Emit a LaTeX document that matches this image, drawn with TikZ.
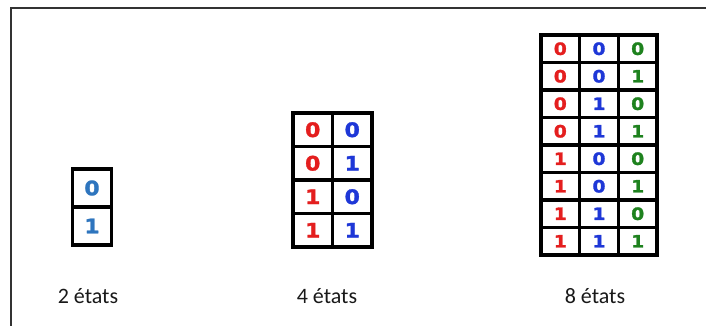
\documentclass[tikz,border=0pt]{standalone}
\usepackage{fontspec}
\setmainfont{Carlito}
\newfontfamily\digitfont[BoldFeatures={FakeBold=1.5,FakeStretch=1.1}]{DejaVu Sans}
\definecolor{dred}{RGB}{228,30,30}
\definecolor{dblue}{RGB}{30,55,215}
\definecolor{dgreen}{RGB}{30,130,30}
\definecolor{lblue}{RGB}{46,117,190}
\begin{document}
\begin{tikzpicture}[x=1pt,y=-1pt,
  cell/.style={draw, line width=3.2pt, inner sep=0pt, font=\digitfont\bfseries\fontsize{20}{20}\selectfont},
  cellA/.style={cell, minimum width=39pt, minimum height=38pt, text=lblue},
  cellB/.style={cell, minimum width=39.5pt, minimum height=33.5pt},
  cellC/.style={cell, minimum width=38.7pt, minimum height=27.5pt, font=\digitfont\bfseries\fontsize{17}{17}\selectfont},
  lbl/.style={anchor=base, font=\fontsize{22}{22}\selectfont, text=black!90}]
\useasboundingbox (0,0) rectangle (706,326);
\fill[white] (0,0) rectangle (706,326);
\draw[line width=1.5pt, black!80] (11,326) -- (11,8) -- (706,8);
% 2 states
\node[cellA] (a0) at (92,188) {0};
\node[cellA] (a1) at (92,226) {1};
% 4 states
\foreach \r/\x/\y in {0/0/0,1/0/1,2/1/0,3/1/1}{
  \node[cellB, text=dred]  (b\r x) at (312.75,{129.75+33.5*\r}) {\x};
  \node[cellB, text=dblue] (b\r y) at (352.25,{129.75+33.5*\r}) {\y};
}
% 8 states
\foreach \r/\x/\y/\z in {0/0/0/0,1/0/0/1,2/0/1/0,3/0/1/1,4/1/0/0,5/1/0/1,6/1/1/0,7/1/1/1}{
  \node[cellC, text=dred]   (c\r x) at (560.3,{48.75+27.5*\r}) {\x};
  \node[cellC, text=dblue]  (c\r y) at (599,{48.75+27.5*\r}) {\y};
  \node[cellC, text=dgreen] (c\r z) at (637.7,{48.75+27.5*\r}) {\z};
}
\node[lbl] (l2) at (88,303) {2 états};
\node[lbl] (l4) at (327,303) {4 états};
\node[lbl] (l8) at (595,303) {8 états};
\end{tikzpicture}
\end{document}
